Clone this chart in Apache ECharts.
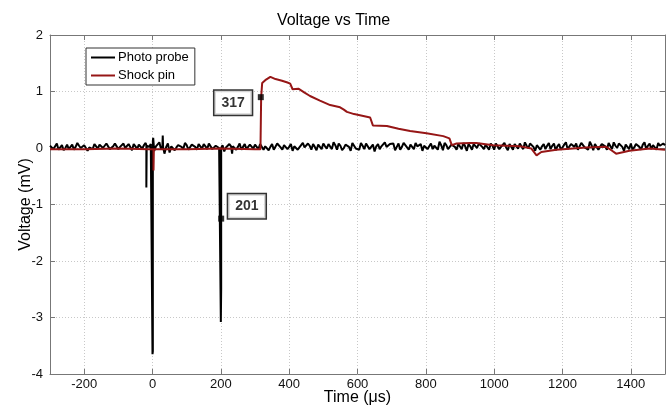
<!DOCTYPE html>
<html><head><meta charset="utf-8">
<script src="https://cdn.jsdelivr.net/npm/echarts@6/dist/echarts.min.js"></script>
<style>html,body{margin:0;padding:0;background:#fff}#c{width:667px;height:408px}</style>
</head><body><div id="c"></div>
<script>
// ---- data ----
var seriesNames = ['Photo probe', 'Shock pin'];
var photoProbe = [
[-300,0.04],[-295,0.07],[-290,-0.02],[-285,0.03],[-280,0.08],[-275,-0.03],[-270,0.01],[-265,0.05],[-260,-0.04],[-255,0.00],[-250,0.06],[-245,-0.02],[-240,0.02],[-235,0.06],[-230,-0.03],[-225,0.02],[-220,0.09],[-215,0.04],[-210,0.00],[-205,-0.03],
[-200,0.05],[-195,0.08],[-190,-0.05],[-185,0.01],[-180,0.03],[-175,-0.02],[-170,0.07],[-165,0.04],[-160,-0.01],[-155,0.06],[-150,0.04],[-145,0.00],[-140,-0.03],[-135,0.08],[-130,0.06],[-125,-0.02],[-120,0.01],[-115,0.03],[-110,0.08],[-105,0.05],
[-100,-0.02],[-95,0.02],[-90,0.05],[-85,0.08],[-80,0.00],[-75,-0.03],[-70,0.07],[-65,0.04],[-60,-0.04],[-55,0.07],[-50,0.03],[-45,-0.02],[-40,0.06],[-35,0.03],[-30,-0.01],[-25,0.05],[-20,0.09],[-18,0.05],[-18,-0.70],[-17,0.04],[-10,0.02],[-5,0.07],
[0,0.05],[0,-3.65],[1,-3.60],[1,0.12],[2,0.18],[5,-0.05],[10,0.03],[15,0.06],[20,0.10],[25,-0.02],[29,0.03],[30,0.22],[31,0.02],[35,-0.10],[40,0.02],[45,0.08],[50,-0.08],[55,0.03],[60,0.06],[65,-0.04],[70,0.01],[75,0.05],[80,0.07],[85,0.02],[90,-0.02],[95,0.09],
[100,0.05],[105,-0.03],[110,0.00],[115,0.06],[120,0.08],[125,0.02],[130,-0.03],[135,0.07],[140,0.04],[145,-0.01],[150,0.07],[155,0.03],[160,-0.02],[165,0.08],[170,0.05],[175,-0.02],[180,0.01],[185,0.04],[190,0.06],[195,0.00],
[200,0.03],[200,-3.08],[201,-2.50],[201,0.00],[205,0.05],[210,-0.06],[215,0.01],[220,0.04],[225,0.07],[230,0.03],[233,-0.10],[235,0.03],[240,0.06],[245,-0.03],[250,0.02],[255,0.08],[260,-0.03],[265,0.02],[270,0.07],[275,-0.02],[280,0.01],[285,0.06],[290,0.04],[295,-0.01],
[300,0.06],[305,0.04],[310,-0.02],[315,0.07],[320,0.09],[325,-0.03],[330,0.03],[335,0.05],[340,-0.04],[345,0.02],[350,0.07],[355,-0.03],[360,0.00],[365,0.08],[370,0.05],[375,0.01],[380,-0.03],[385,0.05],[390,0.08],[395,-0.02],
[400,0.02],[405,0.07],[410,-0.05],[415,0.03],[420,0.06],[425,-0.03],[430,0.01],[435,0.05],[440,0.09],[445,0.01],[450,-0.02],[455,0.08],[460,0.04],[465,-0.03],[470,0.07],[475,0.02],[480,-0.04],[485,0.06],[490,0.03],[495,-0.02],
[500,0.08],[505,0.03],[510,-0.01],[515,0.07],[520,0.05],[525,-0.02],[530,0.10],[535,0.05],[540,-0.03],[545,0.08],[550,0.04],[555,-0.04],[560,0.00],[565,0.06],[570,0.07],[575,0.02],[580,-0.05],[585,0.09],[590,0.06],[595,-0.01],
[600,0.02],[605,-0.03],[610,0.09],[615,0.04],[620,-0.02],[625,0.08],[630,0.05],[635,-0.02],[640,0.01],[645,0.06],[650,-0.06],[655,0.03],[660,0.07],[665,-0.02],[670,0.03],[675,0.05],[680,0.10],[685,0.02],[690,-0.01],[695,0.07],
[700,0.04],[705,0.08],[710,-0.04],[715,0.02],[720,0.08],[725,-0.03],[730,0.02],[735,0.09],[740,0.06],[745,0.01],[750,-0.03],[755,0.06],[760,0.05],[765,-0.02],[770,0.09],[775,0.03],[780,0.00],[785,0.07],[790,-0.05],[795,0.04],
[800,0.07],[805,-0.02],[810,0.03],[815,0.08],[820,-0.02],[825,0.04],[830,0.06],[835,-0.03],[840,0.11],[845,0.05],[850,-0.04],[855,0.09],[860,0.05],[865,-0.02],[870,0.01],[875,0.06],[880,0.08],[885,0.02],[890,-0.03],[895,0.07],
[900,0.04],[905,-0.02],[910,0.09],[915,0.03],[920,-0.05],[925,0.07],[930,0.03],[935,-0.03],[940,0.07],[945,0.05],[950,0.00],[955,0.08],[960,0.10],[965,0.02],[970,-0.02],[975,0.06],[980,0.05],[985,-0.03],[990,0.08],[995,0.04],
[1000,-0.03],[1005,0.08],[1010,0.06],[1015,-0.02],[1020,0.02],[1025,0.05],[1030,0.09],[1035,0.01],[1040,-0.04],[1045,0.07],[1050,0.04],[1055,-0.03],[1060,0.07],[1065,0.03],[1070,-0.01],[1075,0.08],[1080,0.05],[1085,-0.02],[1090,0.10],[1095,0.04],
[1100,0.00],[1105,0.08],[1110,0.06],[1115,0.02],[1120,-0.05],[1125,0.05],[1130,0.08],[1135,-0.03],[1140,0.03],[1145,0.07],[1150,-0.02],[1155,0.04],[1160,0.09],[1165,-0.02],[1170,0.04],[1175,0.08],[1180,-0.04],[1185,0.03],[1190,0.07],[1195,-0.03],
[1200,0.01],[1205,0.06],[1210,0.10],[1215,-0.02],[1220,-0.03],[1225,0.07],[1230,0.05],[1235,0.02],[1240,0.08],[1245,-0.03],[1250,-0.02],[1255,0.09],[1260,0.06],[1265,0.01],[1270,0.03],[1275,-0.03],[1280,0.11],[1285,0.05],[1290,-0.04],[1295,0.07],
[1300,0.05],[1305,-0.03],[1310,0.02],[1315,0.07],[1320,0.09],[1325,0.03],[1330,-0.03],[1335,0.09],[1340,0.06],[1345,-0.02],[1350,0.10],[1355,0.04],[1360,0.00],[1365,0.08],[1370,0.07],[1375,0.02],[1380,-0.05],[1385,0.06],[1390,0.04],[1395,-0.02],
[1400,0.08],[1405,-0.03],[1410,0.01],[1415,0.07],[1420,0.06],[1425,0.02],[1430,-0.03],[1435,0.06],[1440,0.10],[1445,-0.02],[1450,0.04],[1455,0.08],[1460,-0.02],[1465,0.05],[1470,0.07],[1475,-0.03],[1480,0.09],[1485,0.04],[1490,0.02],[1495,0.08],[1500,0.05]
];
var shockPin = [
[-300,-0.02],[-200,-0.02],[-100,-0.01],[-10,-0.02],[3,-0.02],[3,-0.40],[4,-0.40],[4,-0.02],[100,-0.02],[200,-0.01],[300,-0.02],[316,-0.02],
[318,0.90],[321,1.15],[330,1.20],[345,1.26],[360,1.22],[379,1.19],[395,1.16],[403,1.14],[410,1.04],[427,1.05],[445,0.98],
[461,0.92],[490,0.84],[520,0.76],[549,0.72],[560,0.68],[569,0.64],[590,0.60],[607,0.58],[637,0.54],[645,0.40],[686,0.39],
[720,0.34],[754,0.30],[802,0.26],[851,0.21],[869,0.17],[876,0.05],[890,0.08],[929,0.09],[948,0.09],[997,0.05],[1075,0.03],
[1109,-0.01],[1124,-0.13],[1138,-0.07],[1182,-0.03],[1270,0.01],[1328,0.02],[1343,-0.04],[1357,-0.10],[1396,-0.05],
[1455,-0.01],[1500,-0.03]
];
var annoTime = [317, 201];
var annoVolt = [0.9, -1.25];
var annoText = ['317', '201'];

// ---- chart ----
var FONT = 'Arial, "Liberation Sans", sans-serif';
var annoLabelStyles = [
  {position: 'left', distance: 6, offset: [0, 5.5]},
  {position: 'right', distance: 4, offset: [0, -12.5]}
];
var annoData = annoTime.map(function (t, i) {
  var st = annoLabelStyles[i];
  return {value: [t, annoVolt[i]], name: annoText[i],
    label: {position: st.position, distance: st.distance, offset: st.offset}};
});
var gridLine = {show: true, lineStyle: {color: '#c8c8c8', type: [1, 2], width: 1}};
var axisLineStyle = {show: true, onZero: false, lineStyle: {color: '#777', width: 1}};
var tickStyle = {show: true, inside: true, length: 5, lineStyle: {color: '#777'}};
var plainNum = function (v) { return String(v); };
var chart = echarts.init(document.getElementById('c'), null, {renderer: 'canvas'});
chart.setOption({
  animation: false,
  backgroundColor: '#fff',
  title: {text: 'Voltage vs Time', left: 'center', top: 8,
    textStyle: {fontFamily: FONT, fontSize: 16, fontWeight: 'normal', color: '#000'}},
  legend: {
    data: seriesNames, orient: 'vertical', left: 86, top: 48,
    icon: 'rect', itemWidth: 24, itemHeight: 2, itemGap: 5,
    padding: [3, 6, 3, 5], borderColor: '#333', borderWidth: 1, backgroundColor: '#fff',
    textStyle: {fontFamily: FONT, fontSize: 13, color: '#000', padding: [0, 0, 0, -2]}
  },
  grid: {left: 50, right: 2, top: 35, bottom: 34, containLabel: false, outerBoundsMode: 'none'},
  xAxis: [{
    type: 'value', min: -300, max: 1500, splitNumber: 9,
    name: 'Time (μs)', nameLocation: 'middle', nameGap: 16, nameMoveOverlap: false,
    nameTextStyle: {fontFamily: FONT, fontSize: 16, color: '#000'},
    axisLine: axisLineStyle, axisTick: tickStyle,
    axisLabel: {fontFamily: FONT, fontSize: 13, color: '#111', margin: 4, formatter: plainNum,
      showMinLabel: false, showMaxLabel: false},
    splitLine: gridLine
  }, {
    type: 'value', position: 'top', min: -300, max: 1500, splitNumber: 9,
    axisLine: axisLineStyle, axisTick: tickStyle,
    axisLabel: {show: false}, splitLine: {show: false}
  }],
  yAxis: [{
    type: 'value', min: -4, max: 2, interval: 1,
    name: 'Voltage (mV)', nameLocation: 'middle', nameGap: 16, nameMoveOverlap: false,
    nameTextStyle: {fontFamily: FONT, fontSize: 16, color: '#000'},
    axisLine: axisLineStyle, axisTick: tickStyle,
    axisLabel: {fontFamily: FONT, fontSize: 13, color: '#111', margin: 7, formatter: plainNum},
    splitLine: gridLine
  }, {
    type: 'value', position: 'right', min: -4, max: 2, interval: 1,
    axisLine: axisLineStyle, axisTick: tickStyle,
    axisLabel: {show: false}, splitLine: {show: false}
  }],
  series: [{
    name: seriesNames[0], type: 'line', data: photoProbe, showSymbol: false,
    lineStyle: {color: '#000', width: 2}, itemStyle: {color: '#000'}, z: 2
  }, {
    name: seriesNames[1], type: 'line', data: shockPin, showSymbol: false,
    lineStyle: {color: '#961616', width: 2}, itemStyle: {color: '#961616'}, z: 3
  }, {
    name: 'annotations', type: 'scatter', data: annoData, symbol: 'rect', symbolSize: 6,
    itemStyle: {color: '#000'}, z: 5,
    label: {show: true, formatter: '{b}', fontFamily: FONT, fontSize: 14, fontWeight: 'bold', color: '#000',
      backgroundColor: '#fff', borderColor: '#000', borderWidth: 1.5, padding: [5, 7, 5, 7]}
  }]
});
</script></body></html>
